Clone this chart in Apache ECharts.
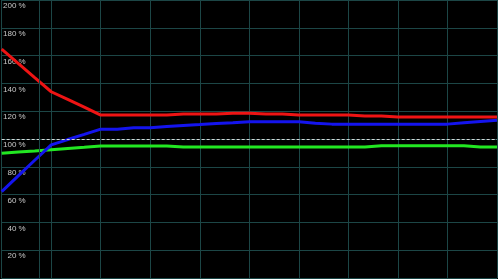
<!DOCTYPE html>
<html>
<head>
<meta charset="utf-8">
<script src="https://cdn.jsdelivr.net/npm/echarts@6/dist/echarts.min.js"></script>
<style>
html,body{margin:0;padding:0;background:#000;}
#c{width:498px;height:279px;}
</style>
</head>
<body>
<div id="c"></div>
<script>
// x positions: 31 samples (0..30)
var xIndex = [0,1,2,3,4,5,6,7,8,9,10,11,12,13,14,15,16,17,18,19,20,21,22,23,24,25,26,27,28,29,30];
var redValues = [164.7,154.4,144.1,134.0,128.5,123.0,117.2,117.2,117.2,117.2,117.2,117.9,117.9,117.9,118.6,118.6,117.9,117.9,117.2,117.2,117.2,117.2,116.5,116.5,115.8,115.8,115.8,115.8,115.8,115.8,115.8];
var blueValues = [62.2,73.5,84.7,95.8,99.6,103.3,107.1,107.1,108.1,108.1,109.0,109.7,110.4,111.2,111.7,112.4,112.4,112.4,112.4,111.4,110.7,110.7,110.7,110.7,110.7,110.7,110.7,110.7,111.7,112.6,113.5];
var greenValues = [89.7,90.6,91.4,92.3,93.2,94.0,94.9,94.9,94.9,94.9,94.9,94.2,94.2,94.2,94.2,94.2,94.2,94.2,94.2,94.2,94.2,94.2,94.2,95.1,95.1,95.1,95.1,95.1,95.1,94.2,94.2];
var yTicks = [0,20,40,60,80,100,120,140,160,180,200];
var referenceLevel = 100;
var markerX = 2.25;

function pairs(vals){ return xIndex.map(function(x,i){ return [x, vals[i]]; }); }

var gridColor = '#1c4646';
var chart = echarts.init(document.getElementById('c'), null, {renderer:'canvas'});
chart.setOption({
  animation:false,
  backgroundColor:'#000000',
  grid:{left:0,right:1,top:0,bottom:1,containLabel:false},
  xAxis:{
    type:'value', min:xIndex[0], max:xIndex[xIndex.length-1], interval:3,
    axisLine:{show:false}, axisTick:{show:false}, axisLabel:{show:false},
    splitLine:{show:true, lineStyle:{color:gridColor, width:1}}
  },
  yAxis:{
    type:'value', min:yTicks[0], max:yTicks[yTicks.length-1], interval:20,
    axisLine:{show:true, lineStyle:{color:gridColor}}, axisTick:{show:false},
    splitLine:{show:true, lineStyle:{color:gridColor, width:1}},
    axisLabel:{
      inside:true, margin:24, align:'right', verticalAlign:'top',
      showMinLabel:false, showMaxLabel:true,
      color:'#c8c8c8', fontSize:8, fontFamily:'Liberation Sans, Arial, sans-serif',
      padding:[2,0,0,0],
      formatter:function(v){ return v + ' %'; }
    }
  },
  series:[
    {type:'line', data:pairs(greenValues), symbol:'none', lineStyle:{color:'#22e822', width:3}, itemStyle:{color:'#22e822'},
     markLine:{silent:true, symbol:'none', label:{show:false},
       data:[{yAxis:referenceLevel, lineStyle:{color:'#d8d8d8', width:1, type:[3,2]}},
             {xAxis:markerX, lineStyle:{color:gridColor, width:1, type:'solid'}}]}},
    {type:'line', data:pairs(blueValues), symbol:'none', lineStyle:{color:'#1414ee', width:3}, itemStyle:{color:'#1414ee'}},
    {type:'line', data:pairs(redValues), symbol:'none', lineStyle:{color:'#ee1414', width:3}, itemStyle:{color:'#ee1414'}}
  ]
});
</script>
</body>
</html>
